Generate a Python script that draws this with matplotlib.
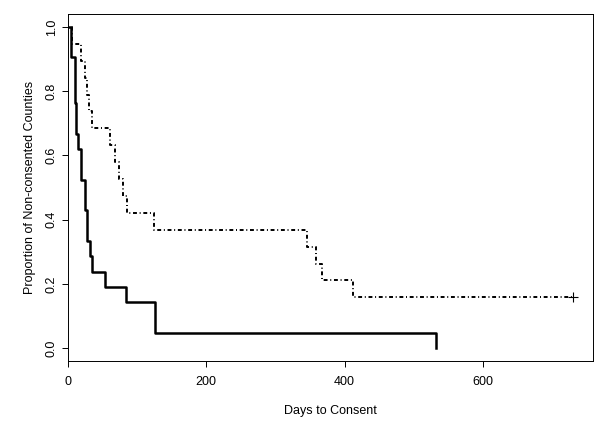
import matplotlib
matplotlib.use("Agg")
import matplotlib.pyplot as plt

plt.rcParams['font.family'] = ['Liberation Sans', 'DejaVu Sans']

# group 1 (solid): all 21 counties consented
days_solid = [0, 4, 10, 12, 14, 19, 24, 27, 32, 34, 54, 84, 126, 532]
prop_solid = [1.0, 0.905, 0.762, 0.667, 0.619, 0.524, 0.429, 0.333,
              0.286, 0.238, 0.190, 0.143, 0.048, 0.0]

# group 2 (dot-dash): 19 counties, 3 still not consented at end of follow-up
days_dash = [0, 6, 19, 25, 27, 30, 34, 61, 68, 74, 80, 86, 125,
             345, 359, 367, 412, 730]
prop_dash = [1.0, 0.947, 0.895, 0.842, 0.789, 0.737, 0.684, 0.632, 0.579,
             0.526, 0.474, 0.421, 0.368, 0.316, 0.263, 0.211, 0.158, 0.158]
censor_day = [730]
censor_prop = [0.158]

x_ticks = [0, 200, 400, 600]
y_ticks = [0.0, 0.2, 0.4, 0.6, 0.8, 1.0]

fig = plt.figure(figsize=(6, 4.25), dpi=100)
ax = fig.add_axes([68 / 600, 1 - 361 / 425, 525 / 600, 347 / 425])

ax.step(days_solid, prop_solid, where='post', color='black', lw=1.8)
ax.step(days_dash, prop_dash, where='post', color='black', lw=1.4,
        linestyle=(0, (0.5, 1.4, 2.0, 1.4)))
ax.plot(censor_day, censor_prop, '+', color='black', ms=7, mew=0.8)

ax.set_xlim(0, 730 * 1.04)
ax.set_ylim(-0.04, 1.04)
ax.set_xticks(x_ticks)
ax.set_xticklabels([str(t) for t in x_ticks])
ax.set_yticks(y_ticks)
ax.set_yticklabels([f"{t:.1f}" for t in y_ticks], rotation=90, va='center')

ax.tick_params(direction='out', length=4, width=0.7, labelsize=9)
ax.tick_params(axis='x', pad=7)
ax.tick_params(axis='y', pad=3.5)
for s in ax.spines.values():
    s.set_linewidth(0.7)

ax.set_xlabel("Days to Consent", fontsize=9, labelpad=12)
ax.set_ylabel("Proportion of Non-consented Counties", fontsize=9, labelpad=7)

fig.savefig("out.png", dpi=100)
